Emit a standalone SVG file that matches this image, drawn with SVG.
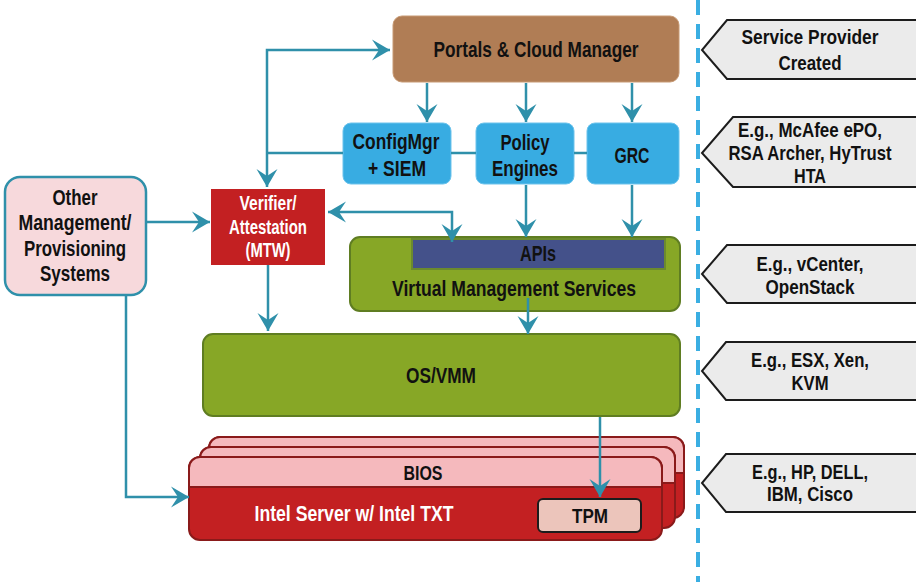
<svg xmlns="http://www.w3.org/2000/svg" width="916" height="582" viewBox="0 0 916 582">
<defs>
<style>
text{font-family:"Liberation Sans",Arial,sans-serif;font-size:22px;font-weight:bold;fill:#111;text-anchor:middle}
.w{fill:#fff}
.l{font-size:21px}
.c{fill:none;stroke:#2f90aa;stroke-width:2.5}
.lab{fill:#ebebeb;stroke:#1c1c1c;stroke-width:2}
</style>
<marker id="ah" markerUnits="userSpaceOnUse" viewBox="-20 -12 22 24" refX="0" refY="0" markerWidth="22" markerHeight="24" orient="auto-start-reverse">
<path d="M0,0 L-18,-10.5 L-11,0 L-18,10.5 Z" fill="#2f90aa"/>
</marker>
</defs>
<rect width="916" height="582" fill="#fff"/>

<line x1="698" y1="0" x2="698" y2="582" stroke="#3aaee2" stroke-width="4" stroke-dasharray="15 9"/>

<g id="portals">
<rect x="393" y="16" width="286" height="66" rx="9" fill="#b07d55" stroke="#c79a74" stroke-width="1"/>
<text x="536" y="57" textLength="205" lengthAdjust="spacingAndGlyphs">Portals &amp; Cloud Manager</text>
</g>
<g id="configmgr">
<rect x="343" y="123" width="108" height="61" rx="8" fill="#38ace2" stroke="#6cc3ec" stroke-width="1"/>
<text x="396" y="149" textLength="87" lengthAdjust="spacingAndGlyphs">ConfigMgr</text>
<text x="397" y="176" textLength="58" lengthAdjust="spacingAndGlyphs">+ SIEM</text>
</g>
<g id="policy">
<rect x="476" y="123" width="98" height="61" rx="8" fill="#38ace2" stroke="#6cc3ec" stroke-width="1"/>
<text x="525" y="150" textLength="49" lengthAdjust="spacingAndGlyphs">Policy</text>
<text x="525" y="176" textLength="66" lengthAdjust="spacingAndGlyphs">Engines</text>
</g>
<g id="grc">
<rect x="587" y="123" width="92" height="61" rx="8" fill="#38ace2" stroke="#6cc3ec" stroke-width="1"/>
<text x="632" y="163" textLength="35" lengthAdjust="spacingAndGlyphs">GRC</text>
</g>
<g id="verifier">
<rect x="211" y="189" width="114" height="76" fill="#c32022"/>
<text class="w" x="268" y="210" style="font-size:20px" textLength="57" lengthAdjust="spacingAndGlyphs">Verifier/</text>
<text class="w" x="268" y="234" style="font-size:20px" textLength="78" lengthAdjust="spacingAndGlyphs">Attestation</text>
<text class="w" x="268" y="257" style="font-size:20px" textLength="45" lengthAdjust="spacingAndGlyphs">(MTW)</text>
</g>
<g id="other">
<rect x="5" y="177" width="141" height="118" rx="15" fill="#f7d9dc" stroke="#2f90aa" stroke-width="2.5"/>
<text x="75" y="205" textLength="45" lengthAdjust="spacingAndGlyphs">Other</text>
<text x="75" y="230" textLength="113" lengthAdjust="spacingAndGlyphs">Management/</text>
<text x="75" y="256" textLength="102" lengthAdjust="spacingAndGlyphs">Provisioning</text>
<text x="75" y="281" textLength="70" lengthAdjust="spacingAndGlyphs">Systems</text>
</g>
<g id="vms">
<rect x="350" y="237" width="330" height="74" rx="10" fill="#87a726" stroke="#5f7d22" stroke-width="2"/>
<rect x="412" y="239" width="253" height="30" fill="#44518a" stroke="#6b8a2e" stroke-width="2"/>
<text x="538" y="261" textLength="36" lengthAdjust="spacingAndGlyphs">APIs</text>
<text x="514" y="296" textLength="244" lengthAdjust="spacingAndGlyphs">Virtual Management Services</text>
</g>
<g id="osvmm">
<rect x="203" y="334" width="477" height="82" rx="10" fill="#87a726" stroke="#5f7d22" stroke-width="2"/>
<text x="441" y="383" textLength="70" lengthAdjust="spacingAndGlyphs">OS/VMM</text>
</g>
<g id="server">
<rect x="209" y="437" width="475" height="81" rx="11" fill="#c32022" stroke="#8a1a1a" stroke-width="2"/>
<path d="M209,473 V448 a11,11 0 0 1 11,-11 H673 a11,11 0 0 1 11,11 V473 Z" fill="#f5b9bd" stroke="#8a1a1a" stroke-width="2"/>
<rect x="200" y="447" width="475" height="81" rx="11" fill="#c32022" stroke="#8a1a1a" stroke-width="2"/>
<path d="M200,483 V458 a11,11 0 0 1 11,-11 H664 a11,11 0 0 1 11,11 V483 Z" fill="#f5b9bd" stroke="#8a1a1a" stroke-width="2"/>
<rect x="189" y="457" width="473" height="83" rx="11" fill="#c32022" stroke="#8a1a1a" stroke-width="2"/>
<path d="M189,487 V468 a11,11 0 0 1 11,-11 H651 a11,11 0 0 1 11,11 V487 Z" fill="#f5b9bd" stroke="#8a1a1a" stroke-width="2"/>
<text x="423" y="480" style="font-size:21px" textLength="39" lengthAdjust="spacingAndGlyphs">BIOS</text>
<text class="w" x="354" y="521" textLength="199" lengthAdjust="spacingAndGlyphs">Intel Server w/ Intel TXT</text>
<rect x="538" y="499" width="103" height="33" rx="5" fill="#ecc5bb" stroke="#1c1c1c" stroke-width="2"/>
<text x="590" y="523" style="font-size:21px" textLength="36" lengthAdjust="spacingAndGlyphs">TPM</text>
</g>

<g id="label1">
<path class="lab" d="M920,20 H727 L702,50 L727,79 H920"/>
<text class="l" x="810" y="44" textLength="137" lengthAdjust="spacingAndGlyphs">Service Provider</text>
<text class="l" x="810" y="70" textLength="63" lengthAdjust="spacingAndGlyphs">Created</text>
</g>
<g id="label2">
<path class="lab" d="M920,117 H733 L702,153 L733,187 H920"/>
<text class="l" x="810" y="137" textLength="144" lengthAdjust="spacingAndGlyphs">E.g., McAfee ePO,</text>
<text class="l" x="810" y="160" textLength="163" lengthAdjust="spacingAndGlyphs">RSA Archer, HyTrust</text>
<text class="l" x="810" y="183" textLength="32" lengthAdjust="spacingAndGlyphs">HTA</text>
</g>
<g id="label3">
<path class="lab" d="M920,245 H727 L702,274 L727,303 H920"/>
<text class="l" x="810" y="271" textLength="107" lengthAdjust="spacingAndGlyphs">E.g., vCenter,</text>
<text class="l" x="810" y="294" textLength="89" lengthAdjust="spacingAndGlyphs">OpenStack</text>
</g>
<g id="label4">
<path class="lab" d="M920,342 H726 L702,371 L726,400 H920"/>
<text class="l" x="810" y="367" textLength="118" lengthAdjust="spacingAndGlyphs">E.g., ESX, Xen,</text>
<text class="l" x="810" y="390" textLength="37" lengthAdjust="spacingAndGlyphs">KVM</text>
</g>
<g id="label5">
<path class="lab" d="M920,454 H726 L702,483 L726,512 H920"/>
<text class="l" x="810" y="479" textLength="116" lengthAdjust="spacingAndGlyphs">E.g., HP, DELL,</text>
<text class="l" x="810" y="501" textLength="86" lengthAdjust="spacingAndGlyphs">IBM, Cisco</text>
</g>

<g id="connectors">
<path class="c" d="M267,187 V50 H390" marker-start="url(#ah)" marker-end="url(#ah)"/>
<path class="c" d="M267,153 H343 M451,153 H476 M574,153 H587"/>
<path class="c" d="M427,83 V122" marker-end="url(#ah)"/>
<path class="c" d="M526,83 V122" marker-end="url(#ah)"/>
<path class="c" d="M632,83 V122" marker-end="url(#ah)"/>
<path class="c" d="M526,185 V237" marker-end="url(#ah)"/>
<path class="c" d="M632,185 V237" marker-end="url(#ah)"/>
<path class="c" d="M328,212 H452 V242" marker-start="url(#ah)" marker-end="url(#ah)"/>
<path class="c" d="M146,222 H210" marker-end="url(#ah)"/>
<path class="c" d="M268,265 V331" marker-end="url(#ah)"/>
<path class="c" d="M528,298 V334" marker-end="url(#ah)"/>
<path class="c" d="M126,296 V497 H189" marker-end="url(#ah)"/>
<path class="c" d="M600,417 V497" marker-end="url(#ah)"/>
</g>
</svg>
